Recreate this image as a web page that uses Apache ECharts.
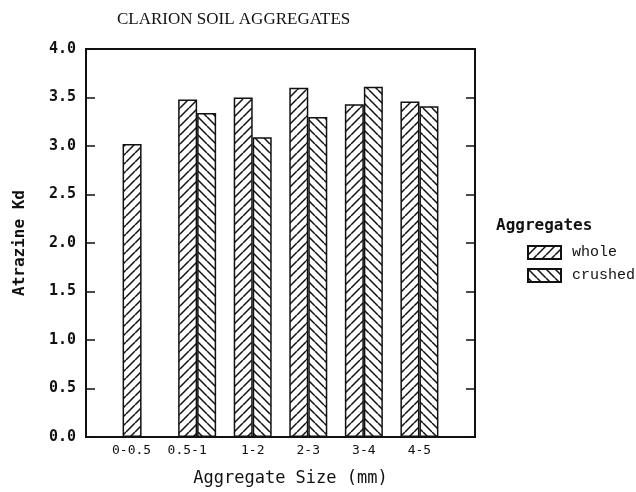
<!DOCTYPE html>
<html>
<head>
<meta charset="utf-8">
<script src="https://cdn.jsdelivr.net/npm/echarts@6/dist/echarts.min.js"></script>
<style>
  html, body { margin: 0; padding: 0; background: #fff; }
  #chart { width: 636px; height: 492px; }
</style>
</head>
<body>
<div id="chart"></div>
<script>
// data
const sizeLabels = ['0-0.5', '0.5-1', '1-2', '2-3', '3-4', '4-5']
const wholeKd = [3.02, 3.48, 3.50, 3.60, 3.43, 3.46]
const crushedKd = [null, 3.34, 3.09, 3.30, 3.61, 3.41]
const yTicks = [0, 0.5, 1, 1.5, 2, 2.5, 3, 3.5, 4]

// hatch fill: dir 1 = "/" , dir -1 = "\"
const makeHatch = (dir) => {
  const s = 9
  const c = document.createElement('canvas')
  c.width = s
  c.height = s
  const ctx = c.getContext('2d')
  ctx.fillStyle = '#fff'
  ctx.fillRect(0, 0, s, s)
  ctx.strokeStyle = '#111'
  ctx.lineWidth = 1.5
  ctx.beginPath()
  for (const k of [-s, 0, s]) {
    if (dir > 0) {
      ctx.moveTo(k, s)
      ctx.lineTo(k + s, 0)
    } else {
      ctx.moveTo(k, 0)
      ctx.lineTo(k + s, s)
    }
  }
  ctx.stroke()
  return { image: c, repeat: 'repeat' }
}

const toPoints = (arr) =>
  arr.map((v, i) => [i + 1, v]).filter(p => p[1] !== null)

const chart = echarts.init(document.getElementById('chart'))

const monoFont = 'DejaVu Sans Mono'

const option = {
  backgroundColor: '#fff',
  animation: false,
  title: [
    {
      text: 'CLARION SOIL AGGREGATES',
      left: 112,
      top: 6,
      textStyle: {
        fontFamily: 'Liberation Serif',
        fontSize: 17,
        fontWeight: 'normal',
        color: '#111'
      }
    },
    {
      text: 'Aggregates',
      left: 491,
      top: 213,
      textStyle: {
        fontFamily: monoFont,
        fontSize: 16,
        fontWeight: 'bold',
        color: '#111'
      }
    }
  ],
  legend: {
    orient: 'vertical',
    left: 522,
    top: 240,
    icon: 'rect',
    itemWidth: 33,
    itemHeight: 13,
    itemGap: 8,
    data: ['whole', 'crushed'],
    textStyle: {
      fontFamily: 'Liberation Mono',
      fontSize: 15,
      color: '#111',
      padding: [0, 0, 0, 6]
    }
  },
  grid: {
    left: 86,
    right: 161,
    top: 49,
    bottom: 53,
    show: true,
    borderColor: '#111',
    borderWidth: 2,
    backgroundColor: 'transparent'
  },
  xAxis: {
    type: 'value',
    min: 0,
    max: 7,
    interval: 1,
    name: 'Aggregate Size (mm)',
    nameLocation: 'middle',
    nameGap: 33,
    nameTextStyle: {
      fontFamily: monoFont,
      fontSize: 17,
      color: '#111',
      padding: [0, 0, 0, 20]
    },
    axisLine: { lineStyle: { color: '#111', width: 2 } },
    axisTick: { show: false },
    splitLine: { show: false },
    axisLabel: {
      margin: 7,
      fontFamily: monoFont,
      fontSize: 13,
      color: '#111',
      // the first two labels sit a little left of their bars in the original
      formatter: (v) => {
        const t = sizeLabels[v - 1]
        if (!t) return ''
        return v <= 2 ? `{w|${t}}` : t
      },
      rich: {
        w: {
          fontFamily: monoFont,
          fontSize: 13,
          color: '#111',
          padding: [0, 20, 0, 0]
        }
      }
    }
  },
  yAxis: [
    {
      type: 'value',
      min: 0,
      max: 4,
      interval: 0.5,
      name: 'Atrazine Kd',
      nameLocation: 'middle',
      nameGap: 58,
      nameTextStyle: {
        fontFamily: monoFont,
        fontSize: 16,
        fontWeight: 'bold',
        color: '#111'
      },
      axisLine: { show: true, lineStyle: { color: '#111', width: 2 } },
      axisTick: { show: true, inside: true, length: 9, lineStyle: { color: '#111', width: 1.5 } },
      splitLine: { show: false },
      axisLabel: {
        margin: 10,
        fontFamily: monoFont,
        fontSize: 15,
        fontWeight: 'bold',
        color: '#111',
        formatter: (v) => yTicks.includes(v) ? v.toFixed(1) : ''
      }
    },
    {
      type: 'value',
      min: 0,
      max: 4,
      interval: 0.5,
      position: 'right',
      axisLine: { show: true, lineStyle: { color: '#111', width: 2 } },
      axisTick: { show: true, inside: true, length: 9, lineStyle: { color: '#111', width: 1.5 } },
      splitLine: { show: false },
      axisLabel: { show: false }
    }
  ],
  series: [
    {
      name: 'whole',
      type: 'bar',
      barWidth: 19,
      barGap: '0%',
      data: toPoints(wholeKd),
      itemStyle: {
        color: makeHatch(1),
        borderColor: '#111',
        borderWidth: 1.5
      }
    },
    {
      name: 'crushed',
      type: 'bar',
      barWidth: 19,
      barGap: '0%',
      data: toPoints(crushedKd),
      itemStyle: {
        color: makeHatch(-1),
        borderColor: '#111',
        borderWidth: 1.5
      }
    }
  ]
}

chart.setOption(option)
</script>
</body>
</html>
